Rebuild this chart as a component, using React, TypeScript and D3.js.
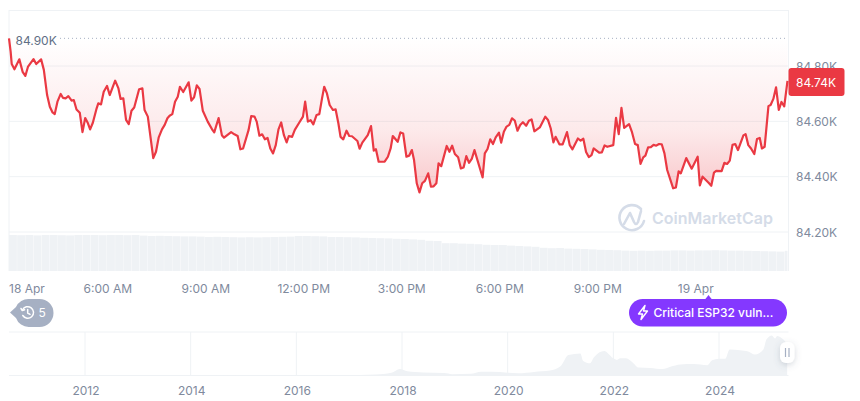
import React from "react";
import * as d3 from "d3";

// minutes after 18 Apr 00:00
const priceMinutes = [
  180, 183, 185, 190, 199, 205, 210, 215, 225, 230, 239, 244, 250, 255, 260, 264, 269, 275, 279, 284,
  289, 295, 299, 304, 310, 315, 320, 325, 329, 334, 341, 344, 349, 354, 360, 365, 375, 381, 385, 390,
  395, 400, 405, 410, 419, 425, 429, 435, 445, 450, 455, 461, 466, 471, 475, 480, 485, 490, 494, 500,
  510, 515, 520, 525, 530, 536, 545, 554, 557, 565, 571, 575, 588, 594, 600, 605, 610, 620, 625, 631,
  635, 640, 645, 650, 655, 660, 665, 670, 675, 680, 685, 690, 694, 700, 705, 713, 720, 724, 729, 734,
  739, 745, 750, 755, 759, 764, 769, 775, 780, 785, 789, 794, 800, 805, 810, 820, 824, 829, 839, 845,
  850, 854, 859, 870, 876, 881, 885, 894, 899, 904, 910, 915, 920, 924, 929, 934, 939, 944, 950, 955,
  960, 965, 969, 974, 984, 989, 994, 999, 1005, 1010, 1015, 1020, 1025, 1030, 1035, 1050, 1054, 1059, 1064, 1069,
  1074, 1080, 1084, 1089, 1094, 1099, 1104, 1109, 1114, 1119, 1124, 1130, 1135, 1140, 1145, 1150, 1155, 1165, 1170, 1175,
  1180, 1184, 1191, 1197, 1205, 1210, 1215, 1225, 1230, 1235, 1240, 1245, 1250, 1254, 1264, 1269, 1274, 1279, 1290, 1295,
  1300, 1305, 1310, 1319, 1324, 1330, 1335, 1340, 1345, 1349, 1354, 1359, 1364, 1369, 1374, 1379, 1384, 1389, 1400, 1405,
  1410, 1414, 1424, 1434, 1445, 1449, 1454, 1465, 1470, 1475, 1479, 1489, 1494, 1499, 1504, 1509, 1514, 1519, 1529, 1533,
  1538, 1543, 1549, 1554, 1559, 1563, 1568, 1575, 1579, 1584, 1589, 1594, 1599, 1604, 1610,
];

const prices = [
  84900, 84852, 84807, 84788, 84824, 84779, 84764, 84798, 84825, 84807, 84824, 84786, 84695, 84653, 84632, 84626, 84671, 84699, 84685, 84683,
  84691, 84675, 84677, 84643, 84631, 84561, 84612, 84593, 84571, 84595, 84647, 84665, 84661, 84707, 84728, 84695, 84747, 84719, 84681, 84683,
  84605, 84590, 84638, 84650, 84716, 84719, 84641, 84617, 84467, 84490, 84542, 84571, 84587, 84611, 84620, 84626, 84671, 84689, 84725, 84706,
  84741, 84675, 84687, 84730, 84717, 84638, 84599, 84568, 84560, 84612, 84550, 84541, 84561, 84553, 84547, 84499, 84502, 84568, 84619, 84617,
  84599, 84548, 84553, 84535, 84540, 84502, 84484, 84514, 84571, 84596, 84550, 84524, 84547, 84544, 84569, 84595, 84617, 84671, 84599, 84604,
  84589, 84623, 84626, 84683, 84725, 84701, 84659, 84641, 84643, 84593, 84544, 84535, 84566, 84547, 84546, 84529, 84501, 84523, 84550, 84583,
  84494, 84499, 84454, 84454, 84472, 84502, 84547, 84526, 84560, 84556, 84472, 84476, 84496, 84460, 84376, 84343, 84376, 84385, 84412, 84364,
  84365, 84376, 84448, 84438, 84511, 84490, 84512, 84482, 84470, 84430, 84433, 84474, 84450, 84464, 84496, 84397, 84484, 84500, 84535, 84518,
  84542, 84559, 84523, 84562, 84581, 84587, 84611, 84603, 84566, 84587, 84597, 84584, 84602, 84607, 84564, 84571, 84578, 84617, 84605, 84575,
  84524, 84544, 84517, 84517, 84561, 84514, 84499, 84538, 84530, 84537, 84489, 84471, 84478, 84502, 84487, 84488, 84513, 84508, 84514, 84613,
  84554, 84649, 84576, 84590, 84563, 84518, 84514, 84446, 84470, 84476, 84506, 84507, 84515, 84512, 84518, 84517, 84484, 84424, 84358, 84361,
  84419, 84412, 84467, 84429, 84472, 84368, 84400, 84378, 84367, 84415, 84421, 84420, 84450, 84446, 84458, 84515, 84518, 84496, 84549, 84554,
  84514, 84502, 84482, 84536, 84540, 84502, 84508, 84655, 84659, 84681, 84723, 84641, 84670, 84654, 84746,
];

// one reading every 15 minutes, billions
const volumes = [
  18.0, 17.9, 18.0, 17.8, 18.0, 18.0, 17.9, 17.8, 18.0, 18.0, 18.0, 17.9, 18.0, 18.0, 17.9, 18.0,
  17.7, 17.5, 17.6, 17.5, 17.4, 17.3, 17.3, 17.2, 17.0, 17.1, 17.0, 16.9, 16.8, 16.9, 16.8, 16.9,
  17.0, 17.1, 17.2, 17.5, 17.5, 17.4, 17.3, 17.0, 17.0, 16.9, 16.8, 16.6, 16.5, 16.4, 16.3, 16.1,
  16.0, 15.8, 15.6, 15.1, 15.0, 13.9, 13.9, 13.7, 13.6, 13.4, 13.1, 13.0, 13.0, 12.7, 12.5, 12.3,
  12.1, 11.6, 11.4, 11.5, 11.2, 11.1, 11.0, 10.8, 10.6, 10.5, 10.4, 10.2, 10.1, 10.2, 10.1, 10.2,
  10.2, 10.3, 10.3, 10.2, 10.3, 10.3, 10.4, 10.3, 10.2, 10.2, 10.1, 10.0, 9.9, 9.8, 9.7, 10.1,
];

const historyYears = [
  2010.56, 2013.9, 2015, 2016.9, 2017.5, 2017.8, 2017.96, 2018.1, 2018.4, 2018.8, 2018.95, 2019.3, 2019.5, 2019.7, 2020.0, 2020.2,
  2020.5, 2020.8, 2021.0, 2021.15, 2021.375, 2021.43, 2021.56, 2021.63, 2021.83, 2021.9, 2022.0, 2022.07, 2022.13, 2022.23, 2022.36, 2022.48,
  2022.7, 2022.93, 2023.08, 2023.27, 2023.52, 2023.78, 2023.87, 2024.0, 2024.12, 2024.2, 2024.4, 2024.55, 2024.68, 2024.84, 2024.9, 2025.0,
  2025.06, 2025.1, 2025.29,
];

// thousands of USD
const historyPrices = [
  0.05, 0.8, 0.3, 1, 2.5, 7, 17, 11, 8, 6.4, 3.5, 4.5, 10, 10, 7.5, 6,
  9.5, 13, 24, 54, 58, 38, 32, 47, 64, 58, 45, 41, 45, 45, 35, 21,
  20, 17, 23, 29, 30, 27, 40, 44, 44, 68, 66, 63, 55, 68, 95, 105,
  97, 104, 84,
];

const priceTicks = [84800, 84600, 84400, 84200];
const timeTicks = [
  { minute: 360, label: "6:00 AM" },
  { minute: 540, label: "9:00 AM" },
  { minute: 720, label: "12:00 PM" },
  { minute: 900, label: "3:00 PM" },
  { minute: 1080, label: "6:00 PM" },
  { minute: 1260, label: "9:00 PM" },
  { minute: 1440, label: "19 Apr" },
];
const yearTicks = [2012, 2014, 2016, 2018, 2020, 2022, 2024];

const openPrice = 84900;
const lastPrice = 84740;

const left = 9;
const right = 787.5;
const grid = "#eff2f5";
const labelColor = "#808a9d";
const font = "Inter, sans-serif";

const fmtK = (v: number) => `${(v / 1000).toFixed(2)}K`;

export default function App() {
  const x = d3.scaleLinear().domain([180, 1610]).range([left, right]);
  const y = d3.scaleLinear().domain([84200, 84800]).range([232, 66]);
  const volY = d3.scaleLinear().domain([0, 18]).range([271, 235]);
  const navX = d3.scaleLinear().domain([2012, 2024]).range([85, 719]);
  const navY = d3.scaleLinear().domain([0, 105]).range([375.5, 335.5]);

  const pts = priceMinutes.map((m, i) => ({ m, p: prices[i] }));
  const line = d3.line<{ m: number; p: number }>().x(d => x(d.m)).y(d => y(d.p));
  const area = d3.area<{ m: number; p: number }>().x(d => x(d.m)).y0(y(openPrice)).y1(d => y(d.p));

  const navPts = historyYears.map((yr, i) => ({ yr, p: historyPrices[i] }));
  const navArea = d3.area<{ yr: number; p: number }>()
    .x(d => navX(d.yr))
    .y0(navY(0))
    .y1(d => navY(d.p))
    .curve(d3.curveMonotoneX);

  const barW = x(195) - x(180);

  return (
    <svg
      width={860}
      height={401}
      style={{ position: "absolute", left: 0, top: 0, display: "block", background: "#fff" }}
      fontFamily={font}
    >
      <defs>
        <linearGradient id="fall" gradientUnits="userSpaceOnUse" x1="0" x2="0" y1={y(openPrice)} y2={193}>
          <stop offset="0%" stopColor="#ea3943" stopOpacity={0} />
          <stop offset="60%" stopColor="#ea3943" stopOpacity={0.11} />
          <stop offset="100%" stopColor="#ea3943" stopOpacity={0.28} />
        </linearGradient>
        <clipPath id="plot">
          <rect x={left} y={0} width={right - left} height={401} />
        </clipPath>
        <filter id="handleShadow" x="-60%" y="-40%" width="220%" height="180%">
          <feDropShadow dx="0" dy="2" stdDeviation="3" floodColor="#58667e" floodOpacity="0.25" />
        </filter>
      </defs>

      {/* main frame */}
      <line x1={left} x2={right + 1} y1={10.5} y2={10.5} stroke={grid} />
      <line x1={left} x2={left} y1={10} y2={271} stroke={grid} />
      <line x1={right + 1} x2={right + 1} y1={10} y2={271} stroke={grid} />
      {priceTicks.map(t => (
        <line key={t} x1={left} x2={right + 1} y1={y(t)} y2={y(t)} stroke={grid} />
      ))}

      {/* volume */}
      <g clipPath="url(#plot)">
        {volumes.map((v, i) => (
          <rect
            key={i}
            x={x(180 + i * 15)}
            y={volY(v)}
            width={barW - 0.3}
            height={volY(0) - volY(v)}
            fill="#eff2f5"
          />
        ))}
      </g>

      {/* price */}
      <path d={area(pts) ?? ""} fill="url(#fall)" />
      <line
        x1={60}
        x2={right}
        y1={y(openPrice)}
        y2={y(openPrice)}
        stroke="#a6b0c3"
        strokeWidth={1}
        strokeDasharray="1 3"
      />
      <path d={line(pts) ?? ""} fill="none" stroke="#ea3943" strokeWidth={2.2} strokeLinejoin="round" />
      <text x={15.5} y={44.5} fontSize={12} fill="#616e85">{fmtK(openPrice)}</text>

      {/* watermark */}
      <g fill="none" stroke="#d5dce8" strokeWidth={2.6} strokeLinecap="round" strokeLinejoin="round">
        <path d="M 641 209 A 12.5 12.5 0 1 0 644 221" />
        <path d="M 624 224 L 630 213 L 634 222 Q 636 226 638 222 L 641 211" />
      </g>
      <text x={652} y={224} fontSize={16} fontWeight={600} fill="#d5dce8">CoinMarketCap</text>

      {/* price axis */}
      {priceTicks.map(t => (
        <text key={t} x={796} y={y(t) + 4.5} fontSize={12} fill={labelColor}>{fmtK(t)}</text>
      ))}
      <rect x={788.5} y={68} width={56} height={28} rx={3} fill="#ea3943" />
      <text x={796} y={86.5} fontSize={12} fill="#fff">{fmtK(lastPrice)}</text>

      {/* time axis */}
      <text x={left} y={292.5} fontSize={12} fill={labelColor}>18 Apr</text>
      {timeTicks.map(t => (
        <text key={t.minute} x={x(t.minute) + 0.8} y={292.5} fontSize={12} fill={labelColor} textAnchor="middle">
          {t.label}
        </text>
      ))}

      {/* news flags */}
      <path d="M 10 312.5 L 16 307 A 13.5 13.5 0 0 1 29 299 L 39.5 299 A 14 14 0 0 1 39.5 327 L 29 327 A 13.5 13.5 0 0 1 16 318 Z" fill="#a6b0c3" />
      <g fill="none" stroke="#fff" strokeWidth={1.5} strokeLinecap="round" strokeLinejoin="round">
        <path d="M 22.5 310 A 5.8 5.8 0 1 1 22.8 315.5" />
        <path d="M 21 308.5 L 22.3 310.6 L 24.6 309.8" />
        <path d="M 27.7 309.5 L 27.7 313 L 30 314.3" />
      </g>
      <text x={38.5} y={317} fontSize={12} fill="#fff">5</text>

      <path d="M 705 299.5 L 708.5 295 L 712 299.5 Z" fill="#8438ff" />
      <rect x={629} y={299} width={158} height={27.5} rx={13.75} fill="#8438ff" />
      <path
        d="M 645 305.5 L 638.5 314 L 642.5 314 L 641 319.5 L 647.5 311 L 643.5 311 Z"
        fill="none"
        stroke="#fff"
        strokeWidth={1.4}
        strokeLinejoin="round"
      />
      <text x={653.5} y={317} fontSize={12} fontWeight={500} fill="#fff">Critical ESP32 vuln...</text>

      {/* navigator */}
      <line x1={left} x2={right + 1} y1={332} y2={332} stroke={grid} />
      <line x1={left} x2={right + 1} y1={375.5} y2={375.5} stroke={grid} />
      {yearTicks.map(t => (
        <line key={t} x1={navX(t)} x2={navX(t)} y1={332} y2={375.5} stroke={grid} />
      ))}
      <path d={navArea(navPts) ?? ""} fill="#eff2f5" />
      {yearTicks.map(t => (
        <text key={t} x={navX(t) + 1} y={394.5} fontSize={12} fill={labelColor} textAnchor="middle">{t}</text>
      ))}
      <rect x={780} y={342} width={14.5} height={21} rx={6} fill="#fff" filter="url(#handleShadow)" />
      <line x1={785.5} x2={785.5} y1={348} y2={357} stroke="#a6b0c3" strokeWidth={1.2} />
      <line x1={789} x2={789} y1={348} y2={357} stroke="#a6b0c3" strokeWidth={1.2} />
    </svg>
  );
}
